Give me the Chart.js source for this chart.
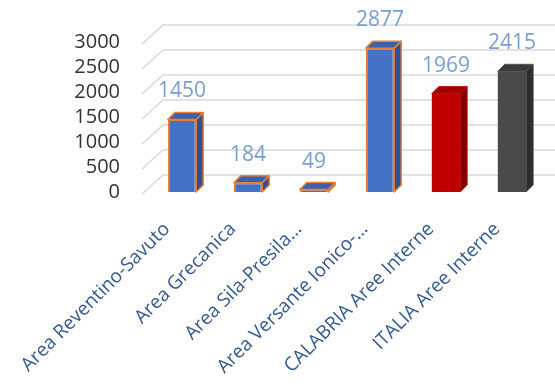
<!DOCTYPE html>
<html lang="it">
<head>
    <meta charset="UTF-8">
    <title>Aree Interne</title>
    <script src="https://cdn.jsdelivr.net/npm/chart.js"></script>
    <style>
        html, body { margin: 0; padding: 0; background: #ffffff; }
        .chart-box { position: relative; width: 555px; height: 386px; }
    </style>
</head>
<body>
    <div class="chart-box">
        <canvas id="areeChart"></canvas>
    </div>

    <script>
        // Categories and values
        const labels = [
            'Area Reventino-Savuto',
            'Area Grecanica',
            'Area Sila-Presila\u2026',
            'Area Versante Ionico-\u2026',
            'CALABRIA Aree Interne',
            'ITALIA Aree Interne'
        ];
        const values = [1450, 184, 49, 2877, 1969, 2415];
        const yTicks = [0, 500, 1000, 1500, 2000, 2500, 3000];

        // Face colours: front / side / top / outline
        const frontColors = ['#4472C4', '#4472C4', '#4472C4', '#4472C4', '#C00000', '#4A4A4A'];
        const sideColors  = ['#2F5091', '#2F5091', '#2F5091', '#2F5091', '#860000', '#2C2C2C'];
        const topColors   = ['#3A62AE', '#3A62AE', '#3A62AE', '#3A62AE', '#A30000', '#3A3A3A'];
        const edgeColors  = ['#ED7D31', '#ED7D31', '#ED7D31', '#ED7D31', '#C00000', '#4A4A4A'];

        const DEPTH = 7;          // bar depth offset
        const WALL_DX = 21;       // back wall offset
        const WALL_DY = 19;

        // diagonal + back wall gridlines
        const wallGrid = {
            id: 'wallGrid',
            beforeDatasetsDraw(chart) {
                const ctx = chart.ctx;
                const y = chart.scales.y;
                const left = chart.chartArea.left;
                ctx.save();
                ctx.strokeStyle = '#D9D9D9';
                ctx.lineWidth = 1.5;
                yTicks.forEach(v => {
                    const py = y.getPixelForValue(v) + 2;
                    ctx.beginPath();
                    ctx.moveTo(left - 7, py);
                    ctx.lineTo(left - 7 + WALL_DX, py - WALL_DY);
                    ctx.lineTo(chart.width, py - WALL_DY);
                    ctx.stroke();
                });
                ctx.restore();
            }
        };

        // side and top faces of each bar, then value labels
        const bars3d = {
            id: 'bars3d',
            afterDatasetsDraw(chart) {
                const ctx = chart.ctx;
                const meta = chart.getDatasetMeta(0);
                ctx.save();
                ctx.lineJoin = 'round';
                meta.data.forEach((bar, i) => {
                    const p = bar.getProps(['x', 'y', 'base', 'width'], true);
                    const l = p.x - p.width / 2;
                    const r = p.x + p.width / 2;
                    const edge = i < 4 ? 1.5 : 0.8;

                    // side face
                    ctx.beginPath();
                    ctx.moveTo(r, p.y);
                    ctx.lineTo(r + DEPTH, p.y - DEPTH);
                    ctx.lineTo(r + DEPTH, p.base - DEPTH);
                    ctx.lineTo(r, p.base);
                    ctx.closePath();
                    ctx.fillStyle = sideColors[i];
                    ctx.fill();
                    ctx.strokeStyle = edgeColors[i];
                    ctx.lineWidth = edge;
                    ctx.stroke();

                    // top face
                    ctx.beginPath();
                    ctx.moveTo(l, p.y);
                    ctx.lineTo(l + DEPTH, p.y - DEPTH);
                    ctx.lineTo(r + DEPTH, p.y - DEPTH);
                    ctx.lineTo(r, p.y);
                    ctx.closePath();
                    ctx.fillStyle = topColors[i];
                    ctx.fill();
                    ctx.stroke();
                });

                ctx.fillStyle = '#789ED2';
                ctx.font = '21px "Open Sans"';
                ctx.textAlign = 'center';
                ctx.textBaseline = 'middle';
                meta.data.forEach((bar, i) => {
                    ctx.fillText(String(values[i]), bar.x, bar.y - 28);
                });
                ctx.restore();
            }
        };

        window.onload = function() {
            const ctx = document.getElementById('areeChart').getContext('2d');
            new Chart(ctx, {
                type: 'bar',
                data: {
                    labels: labels,
                    datasets: [{
                        data: values,
                        backgroundColor: frontColors,
                        borderColor: edgeColors,
                        borderWidth: [1.5, 1.5, 1.5, 1.5, 0, 0],
                        barPercentage: 0.43,
                        categoryPercentage: 1.0
                    }]
                },
                options: {
                    responsive: true,
                    maintainAspectRatio: false,
                    animation: false,
                    layout: { padding: { top: 42, right: 10, left: 0, bottom: 0 } },
                    plugins: {
                        legend: { display: false },
                        tooltip: { enabled: false }
                    },
                    scales: {
                        x: {
                            grid: { display: false },
                            border: { display: false },
                            ticks: {
                                color: '#355A92',
                                font: { family: 'Open Sans', size: 19 },
                                minRotation: 45,
                                maxRotation: 45,
                                autoSkip: false,
                                padding: 18,
                                labelOffset: -15
                            },
                            afterFit(scale) { scale.height = 194; }
                        },
                        y: {
                            min: 0,
                            max: 3000,
                            afterBuildTicks(scale) {
                                scale.ticks = yTicks.map(v => ({ value: v }));
                            },
                            grid: { display: false, drawTicks: false },
                            border: { display: false },
                            ticks: {
                                autoSkip: false,
                                color: '#333333',
                                font: { family: 'Open Sans', size: 20 },
                                padding: 29,
                                callback: v => String(v)
                            },
                            afterFit(scale) { scale.width = 149; }
                        }
                    }
                },
                plugins: [wallGrid, bars3d]
            });
        };
    </script>
</body>
</html>
